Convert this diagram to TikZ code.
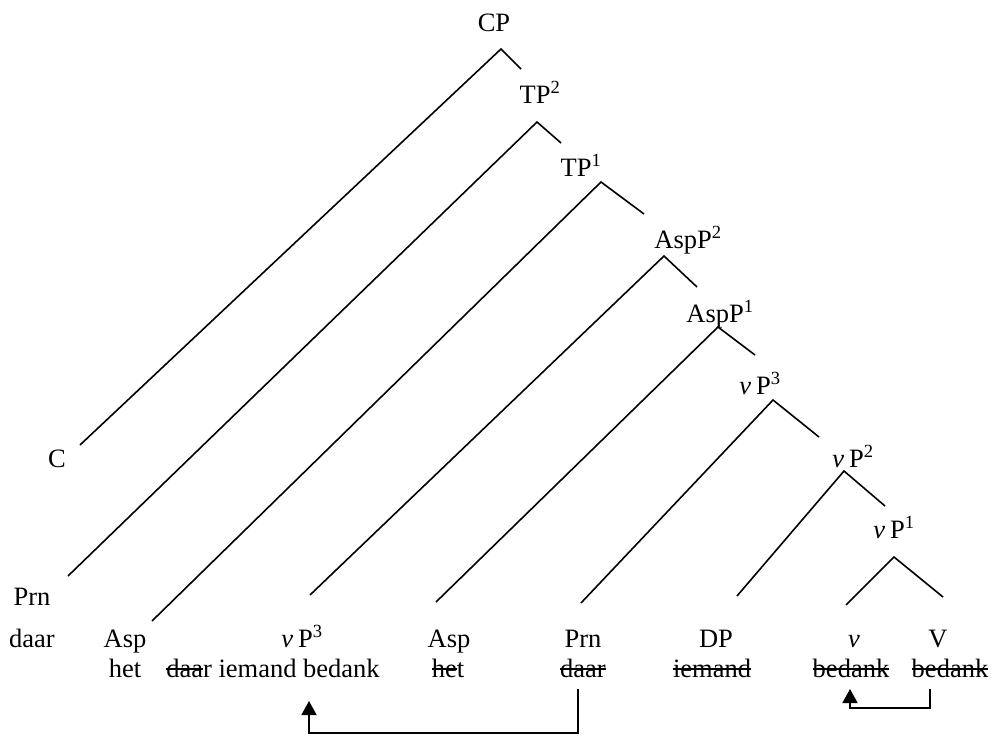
\documentclass[tikz,border=0pt]{standalone}
\usepackage{fontspec}
\setmainfont{Liberation Serif}
\usetikzlibrary{arrows.meta}
\newcommand\strk[1]{\setbox0=\hbox{#1}\rlap{\rule[0.25em]{\wd0}{0.075em}}\box0\relax}
\newcommand\vv{\textit{v}\kern0.18em}
\begin{document}
\begin{tikzpicture}[x=1pt,y=-1pt,
  lbl/.style={anchor=base,inner sep=0pt,font=\fontsize{26.5}{30}\selectfont},
  br/.style={line width=1.6pt},
  mv/.style={line width=1.6pt,-{Triangle[length=14pt,width=15pt]}}]
\useasboundingbox (0,0) rectangle (1004,736);
% phrase labels
\node[lbl] (cp)   at (494,31)  {CP};
\node[lbl] (tp2)  at (540,103) {TP\textsuperscript{2}};
\node[lbl] (tp1)  at (581,176) {TP\textsuperscript{1}};
\node[lbl] (asp2) at (688,248) {AspP\textsuperscript{2}};
\node[lbl] (asp1) at (720,322) {AspP\textsuperscript{1}};
\node[lbl] (vp3)  at (760,394) {\vv P\textsuperscript{3}};
\node[lbl] (vp2)  at (853,467) {\vv P\textsuperscript{2}};
\node[lbl] (vp1)  at (894,538) {\vv P\textsuperscript{1}};
\node[lbl] (c)    at (57,467)  {C};
\node[lbl] (prnA) at (32,605)  {Prn};
% bottom row 1
\node[lbl] (daarA) at (32,647)  {daar};
\node[lbl] (aspA)  at (125,647) {Asp};
\node[lbl] (vpB)   at (302,647) {\vv P\textsuperscript{3}};
\node[lbl] (aspB)  at (449,647) {Asp};
\node[lbl] (prnB)  at (583,647) {Prn};
\node[lbl] (dp)    at (716,647) {DP};
\node[lbl] (vh)    at (854,647) {\textit{v}};
\node[lbl] (vbig)  at (938,647) {V};
% bottom row 2
\node[lbl] (hetA)  at (125,677) {het};
\node[lbl] (vpTxt) at (273,677) {\strk{daa}r iemand bedank};
\node[lbl] (hetB)  at (448,677) {\strk{he}t};
\node[lbl] (daarB) at (583,677) {\strk{daar}};
\node[lbl] (iem)   at (712,677) {\strk{iemand}};
\node[lbl] (bedA)  at (851,677) {\strk{bedank}};
\node[lbl] (bedB)  at (950,677) {\strk{bedank}};
% branch points
\coordinate (cpA)  at (501,49);  \coordinate (cpL)  at (80,445);  \coordinate (cpR)  at (521,69);
\coordinate (tp2A) at (537,122); \coordinate (tp2L) at (68,576);  \coordinate (tp2R) at (561,143);
\coordinate (tp1A) at (601,182); \coordinate (tp1L) at (152,621); \coordinate (tp1R) at (644,214);
\coordinate (as2A) at (664,256); \coordinate (as2L) at (310,595); \coordinate (as2R) at (697,287);
\coordinate (as1A) at (718,327); \coordinate (as1L) at (436,602); \coordinate (as1R) at (755,355);
\coordinate (vp3A) at (773,400); \coordinate (vp3L) at (581,603); \coordinate (vp3R) at (819,437);
\coordinate (vp2A) at (844,471); \coordinate (vp2L) at (737,596); \coordinate (vp2R) at (885,506);
\coordinate (vp1A) at (894,557); \coordinate (vp1L) at (846,605); \coordinate (vp1R) at (943,597);
\draw[br] (cpL) -- (cpA) -- (cpR);
\draw[br] (tp2L) -- (tp2A) -- (tp2R);
\draw[br] (tp1L) -- (tp1A) -- (tp1R);
\draw[br] (as2L) -- (as2A) -- (as2R);
\draw[br] (as1L) -- (as1A) -- (as1R);
\draw[br] (vp3L) -- (vp3A) -- (vp3R);
\draw[br] (vp2L) -- (vp2A) -- (vp2R);
\draw[br] (vp1L) -- (vp1A) -- (vp1R);
% movement arrows
\coordinate (m1s) at (578,689); \coordinate (m1b) at (578,733); \coordinate (m1e) at (309,701);
\draw[mv] (m1s) -- (m1b) -| (m1e);
\coordinate (m2s) at (930,689); \coordinate (m2b) at (930,708); \coordinate (m2e) at (850,689);
\draw[mv] (m2s) -- (m2b) -| (m2e);
\end{tikzpicture}
\end{document}
